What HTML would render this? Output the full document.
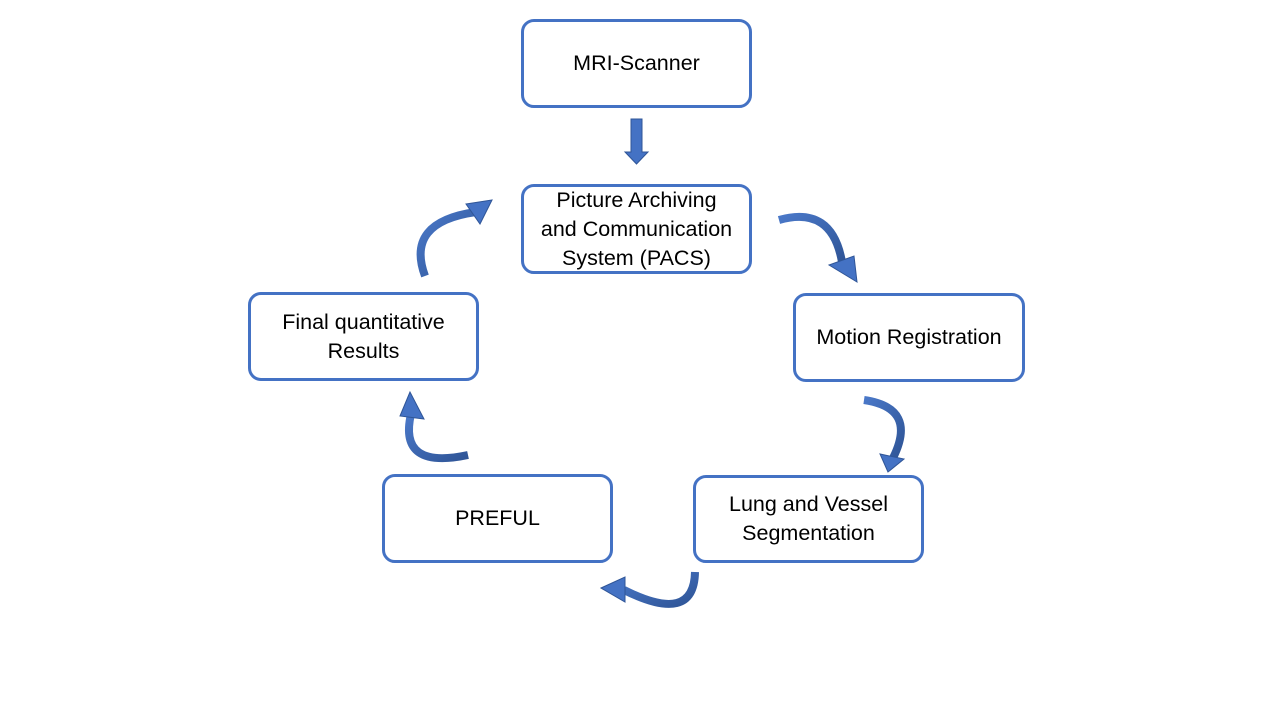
<!DOCTYPE html>
<html><head><meta charset="utf-8"><style>
body{margin:0;width:1280px;height:720px;background:#fff;position:relative;overflow:hidden;font-family:"Liberation Sans",sans-serif}
.b{position:absolute;box-sizing:border-box;border:3px solid #4472C4;border-radius:13px;background:#fff;display:flex;align-items:center;justify-content:center;text-align:center;font-size:21.5px;line-height:29px;color:#000;white-space:nowrap}
svg{position:absolute;left:0;top:0}
</style></head><body>
<svg width="1280" height="720">
<defs><linearGradient id="g" x1="0" y1="0" x2="1" y2="1"><stop offset="0" stop-color="#4a78c8"/><stop offset="1" stop-color="#2f5597"/></linearGradient></defs>
<polygon points="631,119 642,119 642,152 648,152 636.5,164 625,152 631,152" fill="#4472C4" stroke="#2f5597" stroke-width="1"/>
<g fill="none" stroke="url(#g)" stroke-width="8" stroke-linecap="butt">
<path d="M425,276 Q405,222 476,212"/>
<path d="M779,220 Q832,205 842,262"/>
<path d="M864,400 Q918,408 893,458"/>
<path d="M695,572 Q694,625 624,590"/>
<path d="M468,455 Q398,470 411,414"/>
</g>
<g fill="#4472C4" stroke="#2f5597" stroke-width="1">
<polygon points="492,200 466,204 480,224"/>
<polygon points="857,282 829,265 854,256"/>
<polygon points="888,472 880,454 904,459"/>
<polygon points="601,588 625,577 625,602"/>
<polygon points="410,392 400,416 424,419"/>
</g>
</svg>
<div class="b" style="left:521px;top:19px;width:231px;height:89px">MRI-Scanner</div>
<div class="b" style="left:521px;top:184px;width:231px;height:90px">Picture Archiving<br>and Communication<br>System (PACS)</div>
<div class="b" style="left:793px;top:293px;width:232px;height:89px">Motion Registration</div>
<div class="b" style="left:693px;top:475px;width:231px;height:88px">Lung and Vessel<br>Segmentation</div>
<div class="b" style="left:382px;top:474px;width:231px;height:89px">PREFUL</div>
<div class="b" style="left:248px;top:292px;width:231px;height:89px">Final quantitative<br>Results</div>
</body></html>
